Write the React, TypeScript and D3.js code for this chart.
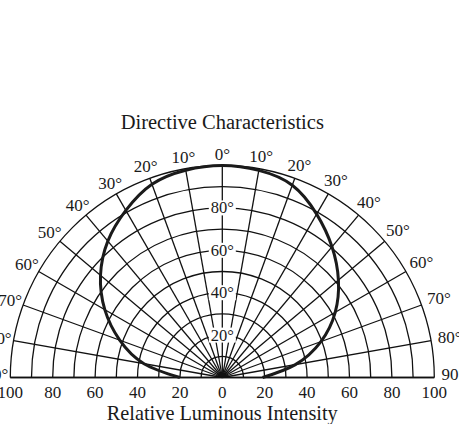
import * as d3 from "d3";

// polar pattern: angle from vertical axis (negative = left), relative intensity %
const angles = [-90, -80, -70, -60, -50, -40, -30, -20, -10, 0, 10, 20, 30, 40, 50, 60, 70, 80, 90];
const intensity = [20, 37.5, 51.5, 64, 75, 84, 91, 97, 99.3, 100, 99.2, 96.5, 89, 80.5, 71.5, 61.5, 49.5, 35, 19];

const gridRadii = [10, 20, 30, 40, 50, 60, 70, 80, 90, 100];
const spokeAngles = d3.range(-90, 91, 10);
const angleLabels = [-90, -80, -70, -60, -50, -40, -30, -20, -10, 0, 10, 20, 30, 40, 50, 60, 70, 80, 90];
const radialLabels = [20, 40, 60, 80];
const xTicks = [-100, -80, -60, -40, -20, 0, 20, 40, 60, 80, 100];

const W = 459;
const H = 424;
const cx = 222.3;
const cy = 377.5;
const R = 212;
const font = "'Liberation Serif', 'Times New Roman', serif";
const ink = "#1a1a1a";

const rScale = d3.scaleLinear().domain([0, 100]).range([0, R]);
const xScale = d3.scaleLinear().domain([-100, 100]).range([cx - R, cx + R]);
const rad = (deg: number) => (deg * Math.PI) / 180;

export default function App() {
  const pts = angles.map((a, i) => [rad(a), intensity[i]] as [number, number]);
  const curve = d3
    .lineRadial<[number, number]>()
    .angle((d) => d[0])
    .radius((d) => rScale(d[1]))
    .curve(d3.curveNatural)(pts);

  const arcPath = (v: number) => {
    const p = d3.path();
    const r = rScale(v);
    p.moveTo(-r, 0);
    p.arc(0, 0, r, Math.PI, 2 * Math.PI);
    return p.toString();
  };

  const hub = d3.path();
  hub.moveTo(-5, 0);
  hub.arc(0, 0, 5, Math.PI, 2 * Math.PI);
  hub.closePath();

  return (
    <svg
      width={W}
      height={H}
      style={{ position: "absolute", left: 0, top: 0, background: "#fff" }}
      fontFamily={font}
    >
      <text x={cx} y={129} textAnchor="middle" fontSize={20.5} fill={ink}>
        Directive Characteristics
      </text>

      <g transform={`translate(${cx},${cy})`} fill="none" stroke="#111" strokeWidth={1.3}>
        {gridRadii.map((v) => (
          <path key={v} d={arcPath(v)} />
        ))}
        {spokeAngles.map((a) => (
          <line
            key={a}
            x1={0}
            y1={0}
            x2={rScale(100) * Math.sin(rad(a))}
            y2={-rScale(100) * Math.cos(rad(a))}
          />
        ))}
        <path d={hub.toString()} fill="#111" stroke="none" />
      </g>
      <line x1={xScale(-100)} x2={xScale(100)} y1={cy} y2={cy} stroke="#111" strokeWidth={1.5} />

      {radialLabels.map((v) => (
        <g key={v} transform={`translate(${cx},${cy - rScale(v)})`}>
          <rect x={-13.5} y={-7.5} width={27} height={15} fill="#fff" />
          <text textAnchor="middle" dominantBaseline="central" fontSize={16.5} fill={ink}>
            {v}°
          </text>
        </g>
      ))}

      <g transform={`translate(${cx},${cy})`}>
        <path d={curve ?? ""} fill="none" stroke="#1a1a1a" strokeWidth={3} />
      </g>

      {angleLabels.map((a) => {
        const s = Math.abs(Math.sin(rad(a)));
        const lr = R + 11 + (a < 0 ? 3 : 8) * s;
        return (
          <text
            key={a}
            x={cx + lr * Math.sin(rad(a))}
            y={cy - lr * Math.cos(rad(a)) - (Math.abs(a) === 90 ? 3 : 0)}
            textAnchor="middle"
            dominantBaseline="central"
            fontSize={17}
            fill={ink}
          >
            {Math.abs(a)}°
          </text>
        );
      })}

      {xTicks.map((t) => (
        <text key={t} x={xScale(t)} y={397.5} textAnchor="middle" fontSize={17} fill={ink}>
          {Math.abs(t)}
        </text>
      ))}

      <text x={cx} y={420} textAnchor="middle" fontSize={20.3} fill={ink}>
        Relative Luminous Intensity
      </text>
    </svg>
  );
}
